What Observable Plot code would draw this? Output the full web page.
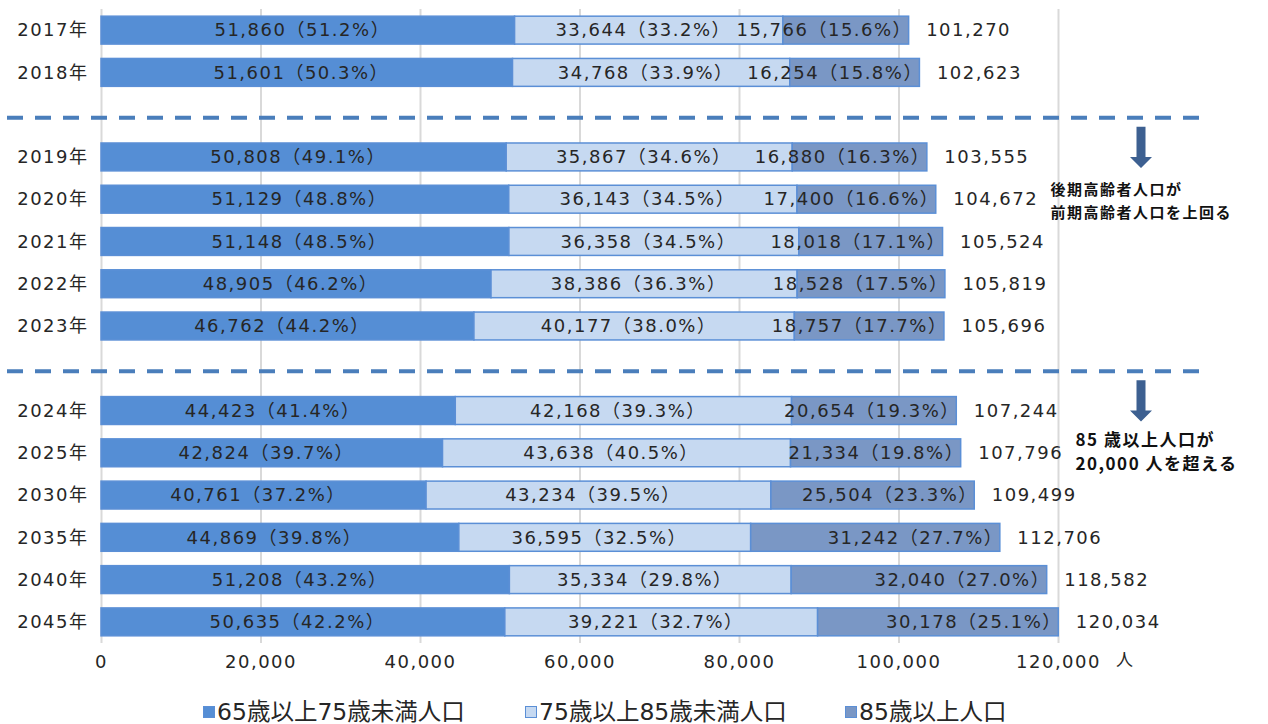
<!DOCTYPE html>
<html lang="ja">
<head>
<meta charset="utf-8">
<script src="https://cdn.jsdelivr.net/npm/d3@7"></script>
<script src="https://cdn.jsdelivr.net/npm/@observablehq/plot@0.6"></script>
<style>
  body { margin: 0; background: #fff; }
  #chart { position: relative; width: 1268px; }
  #legend { position: relative; width: 1268px; height: 39px; }
  #legend .item {
    position: absolute; top: 14px; display: flex; align-items: center;
    font-family: "DejaVu Sans", "Noto Sans CJK JP", sans-serif;
    font-size: 23.5px; line-height: 26px; color: #262626; white-space: nowrap;
  }
  #legend .swatch { width: 12px; height: 12px; box-sizing: border-box; border: 1px solid #5b8fd6; margin-right: 2px; }
</style>
</head>
<body>
<div id="chart"></div>
<div id="legend"></div>
<script>
// 年次（空欄は区切り線の位置）
const years = ["2017年", "2018年", "2019年", "2020年", "2021年", "2022年", "2023年",
               "2024年", "2025年", "2030年", "2035年", "2040年", "2045年"];
const bandDomain = ["2017年", "2018年", "gap-1", "2019年", "2020年", "2021年", "2022年", "2023年",
                    "gap-2", "2024年", "2025年", "2030年", "2035年", "2040年", "2045年"];

// 65歳以上75歳未満人口
const pop65to74 = [51860, 51601, 50808, 51129, 51148, 48905, 46762, 44423, 42824, 40761, 44869, 51208, 50635];
const pct65to74 = [51.2, 50.3, 49.1, 48.8, 48.5, 46.2, 44.2, 41.4, 39.7, 37.2, 39.8, 43.2, 42.2];
// 75歳以上85歳未満人口
const pop75to84 = [33644, 34768, 35867, 36143, 36358, 38386, 40177, 42168, 43638, 43234, 36595, 35334, 39221];
const pct75to84 = [33.2, 33.9, 34.6, 34.5, 34.5, 36.3, 38.0, 39.3, 40.5, 39.5, 32.5, 29.8, 32.7];
// 85歳以上人口
const pop85plus = [15766, 16254, 16880, 17400, 18018, 18528, 18757, 20654, 21334, 25504, 31242, 32040, 30178];
const pct85plus = [15.6, 15.8, 16.3, 16.6, 17.1, 17.5, 17.7, 19.3, 19.8, 23.3, 27.7, 27.0, 25.1];
// 合計
const totals = [101270, 102623, 103555, 104672, 105524, 105819, 105696, 107244, 107796, 109499, 112706, 118582, 120034];

const seriesNames = ["65歳以上75歳未満人口", "75歳以上85歳未満人口", "85歳以上人口"];
const seriesColors = ["#558ed5", "#c6d9f1", "#7a97c5"];
const xTicks = [0, 20000, 40000, 60000, 80000, 100000, 120000];
const unitLabel = "人";
const note1 = "後期高齢者人口が\n前期高齢者人口を上回る";
const note2 = "85 歳以上人口が\n20,000 人を超える";

const fmt = d3.format(",");
const FONT = '"DejaVu Sans", "Noto Sans CJK JP", sans-serif';

// 積み上げ用の行データ
const segments = [];
years.forEach((year, i) => {
  const vals = [pop65to74[i], pop75to84[i], pop85plus[i]];
  const pcts = [pct65to74[i], pct75to84[i], pct85plus[i]];
  let start = 0;
  vals.forEach((v, k) => {
    segments.push({
      year, series: seriesNames[k], k, x1: start, x2: start + v, mid: start + v / 2,
      label: `${fmt(v)}（${pcts[k].toFixed(1)}%）`
    });
    start += v;
  });
});
const totalRows = years.map((year, i) => ({year, total: totals[i]}));

// 区切り下の下向き矢印
function arrows(index, scales, values, dims) {
  const y = scales.y;
  const bw = y.bandwidth ? y.bandwidth() : 0;
  const xc = dims.width - dims.marginRight + 83;
  const g = d3.create("svg:g").attr("fill", "#3d6091");
  for (const [gap, row] of [["gap-1", "2019年"], ["gap-2", "2024年"]]) {
    const top = y(gap) + bw / 2 + 12;
    const bottom = y(row) + bw / 2 + 11;
    const headTop = bottom - 11;
    g.append("path").attr("d",
      `M${xc - 4.5},${top}H${xc + 4.5}V${headTop}H${xc + 11}L${xc},${bottom}L${xc - 11},${headTop}H${xc - 4.5}Z`);
  }
  return g.node();
}

const plot = Plot.plot({
  width: 1268,
  height: 685,
  marginLeft: 101,
  marginRight: 210,
  marginTop: 9,
  marginBottom: 42,
  style: {fontFamily: FONT, fontSize: "18px", color: "#262626", letterSpacing: "1.5px", background: "#fff"},
  x: {domain: [0, 120000], label: null},
  y: {domain: bandDomain, paddingInner: 0.34, paddingOuter: 0.17, round: false, label: null},
  color: {domain: seriesNames, range: seriesColors},
  marks: [
    Plot.gridX(xTicks, {stroke: "#d9d9d9", strokeOpacity: 1, strokeWidth: 2}),
    Plot.barX(segments, {
      x1: "x1", x2: "x2", y: "year", fill: "series",
      stroke: "#5b8fd6", strokeWidth: 1.5
    }),
    Plot.ruleY(["gap-1", "gap-2"], {
      stroke: "#4a7ebb", strokeWidth: 4, strokeDasharray: "16,12",
      dy: 2.5, insetLeft: -94, insetRight: -142
    }),
    Plot.text(segments.filter(d => d.k < 2), {
      x: "mid", y: "year", text: "label", dx: -6, fill: "#262626", fontSize: 18
    }),
    Plot.text(segments.filter(d => d.k === 2), {
      x: "x2", y: "year", text: "label", textAnchor: "end", dx: 3, fill: "#262626", fontSize: 18
    }),
    Plot.text(totalRows, {
      x: "total", y: "year", text: d => fmt(d.total), textAnchor: "start", dx: 17, fill: "#262626", fontSize: 18
    }),
    Plot.axisY({
      tickSize: 0, tickPadding: 13, fontSize: 18, fill: "#262626", label: null,
      tickFormat: d => d.startsWith("gap") ? "" : d
    }),
    Plot.axisX({
      ticks: xTicks, tickFormat: fmt, tickSize: 0, tickPadding: 12, fontSize: 18, fill: "#262626", label: null
    }),
    Plot.text([unitLabel], {
      frameAnchor: "bottom-right", dx: 76, dy: 22, fontSize: 17, fill: "#262626",
      fontFamily: '"Noto Sans CJK JP", sans-serif'
    }),
    Plot.text([note1], {
      y: () => "2020年", frameAnchor: "right", dx: -8, dy: -1, textAnchor: "start",
      lineHeight: 1.55, fontSize: 15, fontWeight: "bold", fill: "#111",
      fontFamily: '"Noto Sans CJK JP", sans-serif'
    }),
    Plot.text([note2], {
      y: () => "2025年", frameAnchor: "right", dx: 17, dy: -3, textAnchor: "start",
      lineHeight: 1.4, fontSize: 17, fontWeight: "bold", fill: "#111",
      fontFamily: '"Noto Sans CJK JP", sans-serif'
    }),
    arrows
  ]
});
document.getElementById("chart").append(plot);

// 凡例
const legend = d3.select("#legend");
const legendLeft = [203, 525, 845];
seriesNames.forEach((name, k) => {
  const item = legend.append("div").attr("class", "item").style("left", legendLeft[k] + "px");
  item.append("div").attr("class", "swatch").style("background", seriesColors[k]);
  item.append("span").text(name);
});
</script>
</body>
</html>
